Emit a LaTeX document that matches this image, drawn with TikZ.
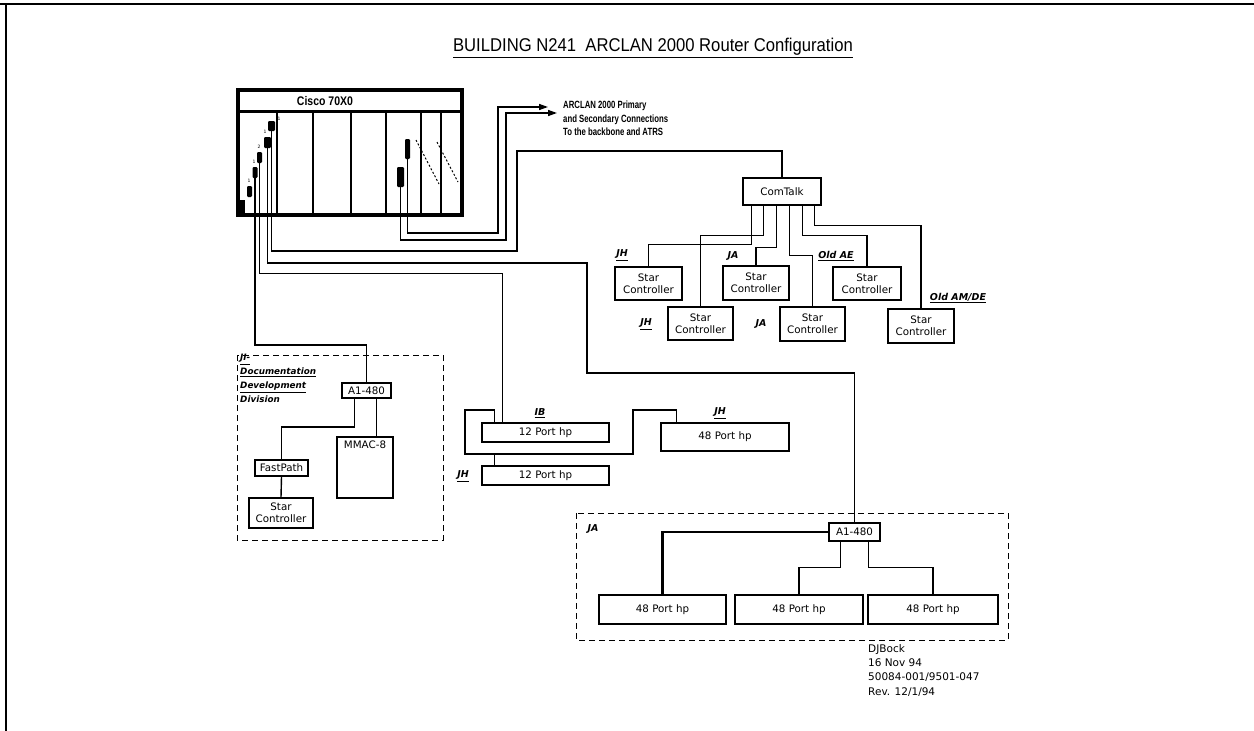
\documentclass[tikz,border=0pt]{standalone}
\usepackage{fontspec}
\setsansfont{DejaVu Sans}
\newfontfamily\lib{Liberation Sans}
\usetikzlibrary{arrows.meta,calc}
\begin{document}
\begin{tikzpicture}[x=1pt,y=-1pt,
  box/.style={draw, line width=1.3pt, inner sep=0pt, align=center, font=\sffamily\fontsize{10.3}{12}\selectfont},
  lbl/.style={inner sep=0pt, font=\sffamily\bfseries\itshape\fontsize{9.5}{10}\selectfont},
  txt/.style={inner sep=0pt, font=\sffamily\fontsize{10.5}{14.3}\selectfont, align=left, anchor=north west},
  wire/.style={line width=1.4pt},
  module/.style={fill=black, rounded corners=1.2pt, inner sep=0pt, draw=none},
  region/.style={draw, line width=0.9pt, dash pattern=on 6pt off 4pt},
  slot/.style={line width=1.8pt},
  tiny/.style={inner sep=0pt, font=\sffamily\fontsize{4.5}{5}\selectfont}]
\useasboundingbox (0,0) rectangle (1254,731);
% frame
\draw[line width=2.5pt] (0,4) -- (1254,4);
\draw[line width=2.5pt] (6,4) -- (6,731);
% title
\node[inner sep=0pt, font=\lib\fontsize{18.5}{20}\selectfont] (title) at (653,48)
  {\scalebox{0.9}[1]{\underline{BUILDING N241\ \ ARCLAN 2000 Router Configuration}}};

% Cisco chassis
\node[draw, line width=3.5pt, minimum width=224pt, minimum height=125pt, inner sep=0pt] (cisco) at (350,152.5) {};
\draw[line width=3pt] ([yshift=-23pt]cisco.north west) -- ([yshift=-23pt]cisco.north east);
\node[inner sep=0pt, font=\lib\bfseries\fontsize{12.5}{13}\selectfont] (ciscot) at (325,101.5) {\scalebox{0.84}[1]{Cisco 70X0}};
\foreach \sx in {277,313,351,386,421,441} \draw[slot] (\sx,113) -- (\sx,215);
\fill (238,200) rectangle (245,215);
% modules
\node[module, minimum width=5pt, minimum height=11pt] (m1) at (249.5,191.5) {};
\node[module, minimum width=5pt, minimum height=11pt] (m2) at (255,172.5) {};
\node[module, minimum width=5pt, minimum height=11pt] (m3) at (259.5,157.5) {};
\node[module, minimum width=7pt, minimum height=11pt] (m4) at (267.5,142.5) {};
\node[module, minimum width=7pt, minimum height=10pt] (m5) at (271.5,126) {};
\node[module, minimum width=7pt, minimum height=20pt] (m6) at (400.5,177) {};
\node[module, minimum width=5pt, minimum height=20pt] (m7) at (407.5,149) {};
\node[tiny] (t1) at (249,181) {1};
\node[tiny] (t2) at (254,162) {1};
\node[tiny] (t3) at (259,147) {2};
\node[tiny] (t4) at (265,132) {1};
\node[tiny] (t5) at (279,119) {1};
% scribbled slot labels
\draw[line width=1pt, dash pattern=on 2pt off 2pt] (416,140) -- (439,184);
\draw[line width=1pt, dash pattern=on 2pt off 2pt] (437,142) -- (458,182);

% ARCLAN text and arrows
\node[txt, font=\lib\bfseries\fontsize{10.5}{13.5}\selectfont] (arclan) at (563,101)
  {\scalebox{0.74}[1]{ARCLAN 2000 Primary}\\\scalebox{0.74}[1]{and Secondary Connections}\\\scalebox{0.74}[1]{To the backbone and ATRS}};
\coordinate (arr1) at (548,107);
\coordinate (arr2) at (557,113);
\draw[wire, -{Triangle[length=9pt,width=6pt]}] (m7.south) |- (498,233) -- (498,107) -- (arr1);
\draw[wire, -{Triangle[length=9pt,width=6pt]}] (m6.south) |- (506,240) -- (506,113) -- (arr2);

% ComTalk group
\node[box, minimum width=78pt, minimum height=27pt] (comtalk) at (782,191.5) {ComTalk};
\node[box, minimum width=67pt, minimum height=33pt] (sc1) at (648.5,283.5) {Star\\Controller};
\node[box, minimum width=65pt, minimum height=33pt] (sc2) at (700.5,323.5) {Star\\Controller};
\node[box, minimum width=66pt, minimum height=34pt] (sc3) at (756,283) {Star\\Controller};
\node[box, minimum width=65pt, minimum height=34pt] (sc4) at (812.5,324) {Star\\Controller};
\node[box, minimum width=68pt, minimum height=33pt] (sc5) at (867,283.5) {Star\\Controller};
\node[box, minimum width=66pt, minimum height=34pt] (sc6) at (921,326) {Star\\Controller};
\draw[wire] ([xshift=9pt]comtalk.south west) -- ++(0,39) -| (sc1.north);
\draw[wire] ([xshift=21pt]comtalk.south west) -- ++(0,30) -| (sc2.north);
\draw[wire] ([xshift=34pt]comtalk.south west) -- ++(0,42) -| (sc3.north);
\draw[wire] ([xshift=47pt]comtalk.south west) -- ++(0,50) -| (sc4.north);
\draw[wire] ([xshift=60pt]comtalk.south west) -- ++(0,30) -| (sc5.north);
\draw[wire] ([xshift=72pt]comtalk.south west) -- ++(0,20) -| (sc6.north);
\node[lbl] (ljh1) at (622,255) {\underline{JH}};
\node[lbl] (ljh2) at (646,324) {\underline{JH}};
\node[lbl] (lja1) at (733,256) {JA};
\node[lbl] (lja2) at (761,324) {JA};
\node[lbl] (lae) at (836,256) {\underline{Old AE}};
\node[lbl] (lam) at (958,298) {\underline{Old AM/DE}};
\draw[wire] (m5.south) |- (517,251) -- (517,151) -| (comtalk.north);

% left region (JI-)
\draw[region] (237,355) rectangle (443,540);
\node[txt, font=\sffamily\bfseries\itshape\fontsize{8.8}{14}\selectfont] (lji) at (240,354)
  {\underline{JI-}\\\underline{Documentation}\\\underline{Development}\\Division};
\node[box, minimum width=49pt, minimum height=15pt] (a1l) at (366.5,390.5) {A1-480};
\node[box, minimum width=56pt, minimum height=61pt] (mmac) at (365,467.5) {};
\node[inner sep=0pt, font=\sffamily\fontsize{10.3}{12}\selectfont, anchor=north] (mmact) at (365,441) {MMAC-8};
\node[box, minimum width=53pt, minimum height=16pt] (fp) at (281.5,468) {FastPath};
\node[box, minimum width=64pt, minimum height=30pt] (scl) at (281,513) {Star\\Controller};
\draw[wire] (m2.south) |- (366.5,345) -- (a1l.north);
\draw[wire] ([xshift=35pt]a1l.south west) coordinate (q1) -- (q1 |- mmac.north);
\draw[wire] ([xshift=13pt]a1l.south west) |- (281.5,427) -- (fp.north);
\draw[wire] (fp.south) -- (scl.north);

% middle hubs
\node[box, minimum width=127pt, minimum height=19pt] (ib) at (545.5,432.5) {12 Port hp};
\node[box, minimum width=127pt, minimum height=19pt] (jh12) at (545.5,475.5) {12 Port hp};
\node[box, minimum width=128pt, minimum height=28pt] (jh48) at (725,437) {48 Port hp};
\node[lbl] (lib) at (540,413) {\underline{IB}};
\node[lbl] (ljh3) at (463,476) {\underline{JH}};
\node[lbl] (ljh4) at (720,413) {\underline{JH}};
\draw[wire] ([xshift=21pt]ib.north west) -- ++(0,-149) -| (m3.south);
\draw[wire] ([xshift=13pt]ib.north west) |- (465,410) |- (633,454) -- (633,410) -| ([xshift=16pt]jh48.north west);
\draw[wire] ([xshift=13pt]jh12.north west) -- ++(0,-12);

% right region (JA)
\draw[region] (576,513) rectangle (1008,640);
\node[lbl] (lja3) at (593,529) {JA};
\node[box, minimum width=51pt, minimum height=18pt] (a1r) at (854.5,532) {A1-480};
\node[box, minimum width=127pt, minimum height=29pt] (p1) at (662.5,609.5) {48 Port hp};
\node[box, minimum width=128pt, minimum height=29pt] (p2) at (799,609.5) {48 Port hp};
\node[box, minimum width=130pt, minimum height=29pt] (p3) at (933,609.5) {48 Port hp};
\draw[wire] (m4.south) |- (587,263) -- (587,373) -| (a1r.north);
\draw[line width=2.2pt] (a1r.west) -| (p1.north);
\draw[wire] ([xshift=12pt]a1r.south west) -- ++(0,26) -| (p2.north);
\draw[wire] ([xshift=40pt]a1r.south west) -- ++(0,26) -| (p3.north);

% footer
\node[txt] (foot) at (868,644) {DJBock\\16 Nov 94\\50084-001/9501-047\\Rev. 12/1/94};
\end{tikzpicture}
\end{document}
